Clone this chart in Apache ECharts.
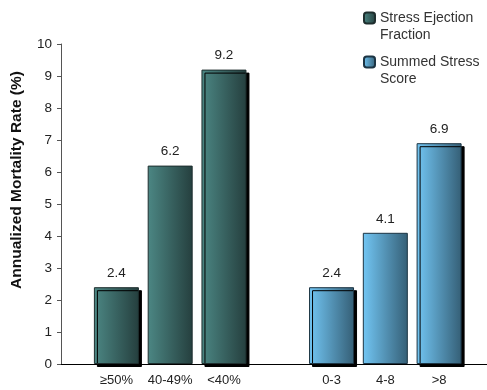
<!DOCTYPE html>
<html>
<head>
<meta charset="utf-8">
<script src="https://cdn.jsdelivr.net/npm/echarts@6/dist/echarts.min.js"></script>
<style>
  html, body { margin: 0; padding: 0; background: #fff; }
  #chart { width: 487px; height: 390px; }
</style>
</head>
<body>
<div id="chart"></div>
<script>
// Category labels along the x axis; the blank entry separates the two groups
const categories = ['≥50%', '40-49%', '<40%', '', '0-3', '4-8', '>8'];
// Annualized mortality rate (%) by stress ejection fraction
const efLabels = ['≥50%', '40-49%', '<40%'];
const efValues = [2.4, 6.2, 9.2];
// Annualized mortality rate (%) by summed stress score
const sssLabels = ['0-3', '4-8', '>8'];
const sssValues = [2.4, 4.1, 6.9];
// Y axis range
const yTicks = [0, 1, 2, 3, 4, 5, 6, 7, 8, 9, 10];

const efName = 'Stress Ejection\nFraction';
const sssName = 'Summed Stress\nScore';

// Place each group's values on the shared category axis; only the outer
// bars of a group cast the drop shadow
function seriesData(labels, values) {
  return categories.map(c => {
    const i = labels.indexOf(c);
    if (c === '' || i < 0) return '-';
    const outer = i === 0 || i === labels.length - 1;
    return outer
      ? { value: values[i] }
      : { value: values[i], itemStyle: { shadowColor: 'rgba(0,0,0,0)' } };
  });
}

function hGrad(c0, c1) {
  return new echarts.graphic.LinearGradient(0, 0, 1, 0, [
    { offset: 0, color: c0 },
    { offset: 1, color: c1 }
  ]);
}

const font = 'Liberation Sans, Arial, sans-serif';
const chart = echarts.init(document.getElementById('chart'));

const barLabel = {
  show: true,
  position: 'top',
  distance: 7,
  color: '#222',
  fontSize: 13.5,
  fontFamily: font
};

// One legend block per series; a blank leading line keeps the swatch
// level with the first line of the two-line name
function legendBlock(name, top) {
  return {
    orient: 'vertical',
    left: 363,
    top: top,
    padding: 0,
    itemWidth: 11,
    itemHeight: 11,
    formatter: n => ' \n' + n,
    textStyle: { fontSize: 14, color: '#333', lineHeight: 17, fontFamily: font },
    data: [{ name: name, itemStyle: { shadowOffsetX: 0, shadowOffsetY: 0 } }]
  };
}

chart.setOption({
  animation: false,
  backgroundColor: '#fff',
  textStyle: { fontFamily: font },
  legend: [legendBlock(efName, -7.5), legendBlock(sssName, 36.5)],
  grid: [
    { left: 89.5, right: 21, top: 44, bottom: 26 },
    { left: 61, right: 0, top: 44, bottom: 26 }
  ],
  xAxis: [
    {
      type: 'category',
      gridIndex: 0,
      data: categories,
      axisLine: { show: false },
      axisTick: { show: false },
      axisLabel: { interval: 0, color: '#222', fontSize: 13, margin: 10, fontFamily: font }
    },
    {
      type: 'value',
      gridIndex: 1,
      min: 0, max: 1,
      axisLine: { show: true, lineStyle: { color: '#000', width: 1 } },
      axisTick: { show: false },
      axisLabel: { show: false },
      splitLine: { show: false }
    }
  ],
  yAxis: [
    {
      type: 'value',
      gridIndex: 0,
      min: yTicks[0],
      max: yTicks[yTicks.length - 1],
      interval: 1,
      offset: 28.5,
      name: 'Annualized Mortality Rate (%)',
      nameLocation: 'middle',
      nameGap: 36,
      nameTextStyle: {
        fontWeight: 'bold', fontSize: 15.5, color: '#111',
        padding: [0, 0, 0, 48], fontFamily: font
      },
      axisLine: { show: true, lineStyle: { color: '#555', width: 1 } },
      axisTick: { show: true, length: 4, lineStyle: { color: '#555' } },
      axisLabel: { color: '#222', fontSize: 13.5, margin: 9, fontFamily: font },
      splitLine: { show: false }
    },
    {
      type: 'value',
      gridIndex: 1,
      min: 0, max: 10,
      show: false
    }
  ],
  series: [
    {
      name: efName,
      type: 'bar',
      xAxisIndex: 0,
      yAxisIndex: 0,
      barWidth: 45,
      barGap: '-100%',
      data: seriesData(efLabels, efValues),
      itemStyle: {
        color: hGrad('#4c8784', '#253f3e'),
        borderColor: '#1e2e2e',
        borderWidth: 1,
        shadowColor: '#000',
        shadowBlur: 0,
        shadowOffsetX: 3,
        shadowOffsetY: 3
      },
      label: barLabel
    },
    {
      name: sssName,
      type: 'bar',
      xAxisIndex: 0,
      yAxisIndex: 0,
      barWidth: 45,
      barGap: '-100%',
      data: seriesData(sssLabels, sssValues),
      itemStyle: {
        color: hGrad('#72c6f4', '#355f76'),
        borderColor: '#1c3443',
        borderWidth: 1,
        shadowColor: '#000',
        shadowBlur: 0,
        shadowOffsetX: 3,
        shadowOffsetY: 3
      },
      label: barLabel
    }
  ]
});
</script>
</body>
</html>
